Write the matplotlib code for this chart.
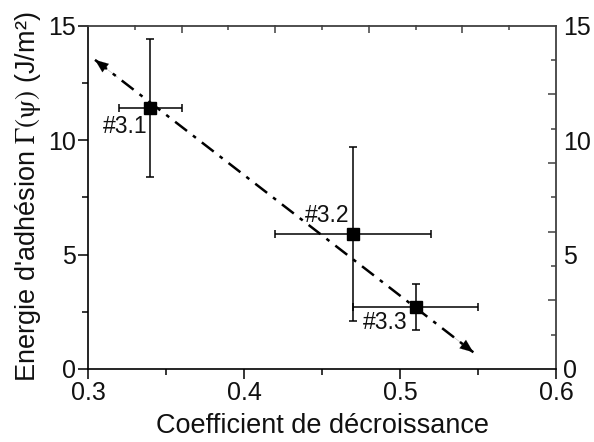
import matplotlib
matplotlib.use("Agg")
import matplotlib.pyplot as plt

plt.rcParams['font.family'] = ['Liberation Sans', 'DejaVu Sans']
plt.rcParams['mathtext.fontset'] = 'stix'

# data
coef = [0.34, 0.47, 0.51]
coef_err = [0.02, 0.05, 0.04]
energy = [11.4, 5.9, 2.7]
energy_err = [3.0, 3.8, 1.0]
labels = ['#3.1', '#3.2', '#3.3']
label_x = [0.3094, 0.4391, 0.4761]
label_y = [10.57, 6.72, 2.02]
trend_x = [0.3045, 0.547]
trend_y = [13.5, 0.73]

fig = plt.figure(figsize=(5.94, 4.42), dpi=100)
ax = fig.add_axes([88/594, 1-369/442, (556-88)/594, (369-25.5)/442])

ax.errorbar(coef, energy, xerr=coef_err, yerr=energy_err, fmt='s', color='black',
            ms=9, capsize=3.2, elinewidth=1.1, capthick=1.1, zorder=3)

# trend line with arrowheads
ax.plot(trend_x, trend_y, color='black', lw=1.8, dashes=(6, 3, 1.5, 3), zorder=2)
for (x0, y0), (x1, y1) in [((trend_x[1], trend_y[1]), (trend_x[0], trend_y[0])),
                           ((trend_x[0], trend_y[0]), (trend_x[1], trend_y[1]))]:
    fx = x1 + (x0 - x1) * 0.06
    fy = y1 + (y0 - y1) * 0.06
    ax.annotate('', xy=(x1, y1), xytext=(fx, fy),
                arrowprops=dict(arrowstyle='-|>,head_length=0.95,head_width=0.38',
                                color='black', lw=0.1, shrinkA=0, shrinkB=0))

for t, x, y in zip(labels, label_x, label_y):
    ax.text(x, y, t, fontsize=16.5, ha='left', va='center', color='#111111', zorder=4)

ax.set_xlim(0.3, 0.6)
ax.set_ylim(0, 15)
ax.set_xticks([0.3, 0.4, 0.5, 0.6])
ax.set_xticklabels(['0.3', '0.4', '0.5', '0.6'])
ax.set_xticks([0.35, 0.45, 0.55], minor=True)
ax.set_yticks([0, 5, 10, 15])
ax.set_yticks([2.5, 7.5, 12.5], minor=True)
ax.tick_params(axis='both', which='major', direction='out', length=7, width=1.1,
               labelsize=18, pad=1.5, labelcolor='#111111')
ax.tick_params(axis='both', which='minor', direction='out', length=4, width=1.1)
ax.tick_params(top=False, right=False)
for s in ['left', 'bottom']:
    ax.spines[s].set_linewidth(1.2)
for s in ['top', 'right']:
    ax.spines[s].set_linewidth(1.3)
    ax.spines[s].set_color('#404040')

ax.set_xlabel('Coefficient de décroissance', fontsize=19.5, labelpad=6, color='#111111')
ax.set_ylabel("Energie d'adhésion $\\Gamma(\\mathrm{\\psi})$ (J/m²)", fontsize=19.5,
              labelpad=4, color='#111111')

# right axis: labels and ticks
axr = ax.twinx()
axr.set_ylim(0, 15)
axr.set_yticks([0, 5, 10, 15])
axr.set_yticks([3, 6, 9, 12], minor=True)
axr.tick_params(axis='y', which='major', length=0, labelsize=18, pad=5, labelcolor='#111111')
axr.tick_params(axis='y', which='minor', direction='in', length=6, width=1.1, color='#404040')
for s in axr.spines.values():
    s.set_visible(False)

sec_r = ax.secondary_yaxis('right')
sec_r.set_yticks([1.5, 4.5, 7.5, 10.5, 13.5])
sec_r.tick_params(axis='y', direction='in', length=3.5, width=1.1, color='#404040', labelright=False)
sec_r.spines['right'].set_visible(False)

sec_t = ax.secondary_xaxis('top')
sec_t.set_xticks([0.36, 0.42, 0.48, 0.54])
sec_t.set_xticks([0.33, 0.39, 0.45, 0.51, 0.57], minor=True)
sec_t.tick_params(axis='x', which='major', direction='in', length=6, width=1.1, color='#404040', labeltop=False)
sec_t.tick_params(axis='x', which='minor', direction='in', length=3.5, width=1.1, color='#404040')
sec_t.spines['top'].set_visible(False)

fig.savefig('out.png', dpi=100)
